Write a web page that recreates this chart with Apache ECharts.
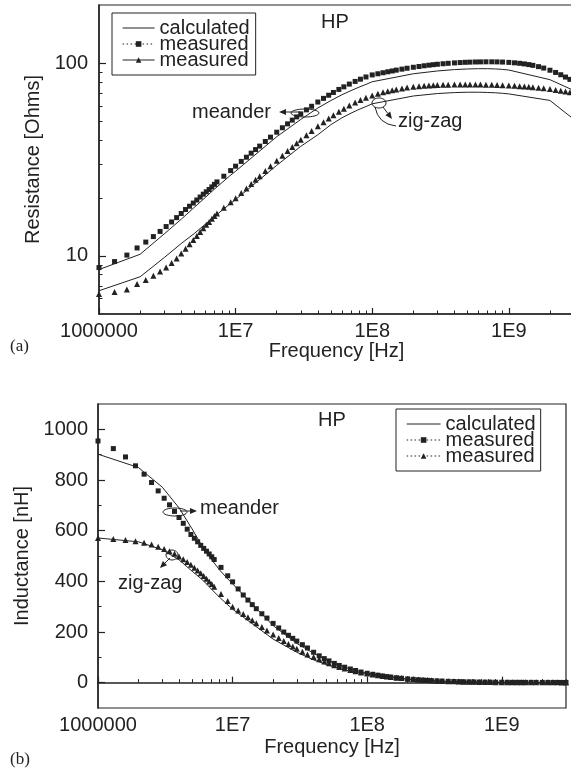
<!DOCTYPE html>
<html>
<head>
<meta charset="utf-8">
<script src="https://cdn.jsdelivr.net/npm/echarts@6/dist/echarts.min.js"></script>
<style>
  html, body { margin: 0; padding: 0; background: #fff; }
  #chart { width: 571px; height: 776px; }
</style>
</head>
<body>
<div id="chart"></div>
<script>
// frequency points
const calcFreq = [1e6, 2e6, 3e6, 4e6, 5e6, 6e6, 7e6, 8e6, 9e6,
  1e7, 2e7, 3e7, 4e7, 5e7, 6e7, 7e7, 8e7, 9e7,
  1e8, 2e8, 3e8, 4e8, 5e8, 6e8, 7e8, 8e8, 9e8,
  1e9, 2e9, 3e9];
const measFreq = [
  1.0e6, 1.3e6, 1.6e6, 1.9e6, 2.2e6, 2.5e6, 2.8e6, 3.1e6, 3.4e6, 3.7e6, 4.0e6, 4.3e6, 4.6e6, 4.9e6, 5.2e6, 5.5e6, 5.8e6, 6.1e6, 6.4e6, 6.7e6, 7.0e6, 7.3e6,
  8.2e6, 9.2e6,
  1.0e7, 1.1e7, 1.2e7, 1.3e7, 1.4e7, 1.5e7, 1.65e7, 1.8e7, 2.0e7, 2.2e7, 2.4e7, 2.6e7, 2.8e7, 3.0e7, 3.3e7, 3.6e7, 4.0e7, 4.4e7, 4.8e7, 5.2e7, 5.7e7, 6.2e7, 6.8e7, 7.5e7, 8.2e7, 9.0e7,
  1.0e8, 1.1e8, 1.2e8, 1.3e8, 1.4e8, 1.5e8, 1.65e8, 1.8e8, 2.0e8, 2.2e8, 2.4e8, 2.6e8, 2.8e8, 3.0e8, 3.3e8, 3.6e8, 4.0e8, 4.4e8, 4.8e8, 5.2e8, 5.7e8, 6.2e8, 6.8e8, 7.5e8, 8.2e8, 9.0e8,
  1.0e9, 1.1e9, 1.2e9, 1.3e9, 1.4e9, 1.5e9, 1.65e9, 1.8e9, 2.0e9, 2.2e9, 2.4e9, 2.6e9, 2.8e9, 3.0e9
];

// (a) resistance [Ohms]
const resMeander = [
  8.7, 9.35, 10.1, 11.0, 11.8, 12.6, 13.4, 14.2, 15.0, 15.8, 16.6, 17.4, 18.1, 18.8, 19.5, 20.2, 20.9, 21.5, 22.1, 22.8, 23.5, 24.2,
  25.9, 27.7,
  29.2, 30.9, 32.5, 34.1, 35.6, 37.1, 39.2, 41.3, 43.8, 46.2, 48.4, 50.6, 52.6, 54.5, 57.2, 59.7, 62.8, 65.6, 68.1, 70.4, 73.0, 75.3, 77.8, 80.3, 82.5, 84.7,
  86.8, 88.0, 89.1, 90.1, 91.0, 91.9, 93.0, 94.0, 95.1, 96.0, 96.8, 97.5, 98.1, 98.6, 99.2, 99.7, 100.2, 100.6, 100.9, 101.1, 101.3, 101.4, 101.5, 101.5, 101.4, 101.2,
  100.8, 100.3, 99.7, 99.0, 98.2, 97.3, 95.8, 94.2, 91.8, 89.4, 87.0, 84.6, 82.3, 80.0
];
const resZigzag = [
  6.35, 6.5, 6.7, 7.15, 7.5, 7.9, 8.3, 8.7, 9.2, 9.7, 10.3, 10.9, 11.5, 12.1, 12.7, 13.3, 13.9, 14.5, 15.0, 15.6, 16.1, 16.6,
  17.8, 19.0,
  19.9, 21.2, 22.4, 23.6, 24.8, 25.9, 27.6, 29.2, 31.2, 33.1, 35.0, 36.7, 38.4, 40.0, 42.3, 44.4, 47.0, 49.4, 51.6, 53.6, 55.9, 58.0, 60.2, 62.4, 64.3, 66.1,
  67.9, 69.3, 70.5, 71.5, 72.3, 73.0, 73.9, 74.6, 75.3, 75.8, 76.2, 76.5, 76.8, 77.0, 77.2, 77.3, 77.4, 77.5, 77.5, 77.5, 77.5, 77.4, 77.3, 77.2, 77.0, 76.8,
  76.5, 76.2, 75.9, 75.6, 75.3, 75.0, 74.5, 74.0, 73.3, 72.6, 71.9, 71.2, 70.5, 69.8
];
const resCalcMeander = [8.5, 10.2, 13.0, 15.5, 17.9, 20.1, 22.2, 24.1, 25.9,
  27.5, 41.5, 51, 58.5, 64, 68.5, 72, 75, 77.5,
  80, 88, 91, 92.5, 93.2, 93.5, 93.5, 93.2, 92.7,
  92.0, 82, 72];
const resCalcZigzag = [6.6, 7.8, 9.8, 11.6, 13.1, 14.6, 16.0, 17.3, 18.5,
  19.6, 29.5, 37, 42.5, 48, 52, 55, 57.5, 59.5,
  61.5, 67.5, 69.5, 70.3, 70.6, 70.6, 70.4, 70.1, 69.7,
  69.2, 64, 51];

// (b) inductance [nH]
const indMeander = [
  954, 924, 891, 856, 823, 790, 757, 728, 702, 676, 652, 629, 606, 585, 570, 556, 542, 530, 519, 508, 497, 486,
  455, 422,
  398, 370, 346, 326, 308, 292, 272, 255, 234, 216, 200, 187, 175, 164, 150, 137, 120, 106, 95, 86, 76, 68, 61, 54, 48, 42,
  37, 33, 29.5, 26.5, 24, 22, 19.5, 17.3, 15, 13, 11.5, 10.2, 9.1, 8.2, 7.1, 6.2, 5.3, 4.6, 4.0, 3.6, 3.2, 2.8, 2.5, 2.2, 2.0, 1.8,
  1.6, 1.5, 1.4, 1.3, 1.25, 1.2, 1.15, 1.1, 1.05, 1.0, 1.0, 0.95, 0.9, 0.9
];
const indZigzag = [
  571, 567, 563, 558, 552, 545, 537, 528, 519, 509, 498, 487, 476, 465, 454, 443, 432, 421, 410, 399, 389, 379,
  350, 322,
  300, 285, 271, 258, 246, 235, 220, 206, 190, 176, 164, 153, 143, 134, 122, 111, 101, 92, 84, 77, 69, 62, 56, 50, 45, 40,
  36, 32, 29, 26.5, 24, 22, 19.8, 18, 15.8, 14, 12.5, 11.2, 10.1, 9.2, 8.0, 7.0, 6.0, 5.2, 4.6, 4.1, 3.6, 3.2, 2.9, 2.6, 2.3, 2.1,
  1.9, 1.8, 1.7, 1.6, 1.55, 1.5, 1.45, 1.4, 1.35, 1.3, 1.25, 1.2, 1.15, 1.1
];
const indCalcMeander = [902, 849, 772, 690, 607, 535, 485, 445, 415,
  390, 225, 155, 116, 90, 72, 59, 50, 43,
  37, 14, 7.5, 4.8, 3.4, 2.6, 2.1, 1.8, 1.6,
  1.4, 0.9, 0.7];
const indCalcZigzag = [571, 556, 525, 485, 440, 405, 368, 337, 312,
  290, 172, 120, 90, 71, 58, 49, 42, 37,
  33, 13, 7.5, 5, 3.6, 2.8, 2.3, 2.0, 1.8,
  1.6, 1.0, 0.8];

// ticks
const freqMajorTicks = [1e6, 1e7, 1e8, 1e9];
const freqTickLabels = ['1000000', '1E7', '1E8', '1E9'];
const freqMinorTicks = [2e6, 3e6, 4e6, 5e6, 6e6, 7e6, 8e6, 9e6,
  2e7, 3e7, 4e7, 5e7, 6e7, 7e7, 8e7, 9e7,
  2e8, 3e8, 4e8, 5e8, 6e8, 7e8, 8e8, 9e8, 2e9, 3e9];
const resMajorTicks = [10, 100];
const resMinorTicks = [6, 7, 8, 9, 20, 30, 40, 50, 60, 70, 80, 90];
const indMajorTicks = [0, 200, 400, 600, 800, 1000];
const indMinorTicks = [100, 300, 500, 700, 900];

const legendLabels = {
  'calculated': 'calculated',
  'measured-meander': 'measured',
  'measured-zigzag': 'measured'
};

const FONT = 'Liberation Sans, Arial, Helvetica, sans-serif';
const SERIF = 'Liberation Serif, Times New Roman, serif';
const INK = '#222';
const DOTS = [1.5, 2.5];

const pairs = (xs, ys) => xs.map((x, i) => [x, ys[i]]);

const freqLabel = (val) => {
  const i = freqMajorTicks.findIndex(v => Math.abs(Math.log10(v / val)) < 0.01);
  return i < 0 ? '' : freqTickLabels[i];
};

// 频率轴（主刻度 + 次刻度）
const freqAxes = (gridIndex, nameGap) => [
  {
    type: 'log', gridIndex, min: 1e6, max: 3e9, position: 'bottom',
    name: 'Frequency [Hz]', nameLocation: 'middle', nameGap,
    nameTextStyle: { fontFamily: FONT, fontSize: 20, color: INK },
    axisLine: { lineStyle: { color: INK, width: 1.5 } },
    axisTick: { inside: true, length: 6, customValues: freqMajorTicks, lineStyle: { color: INK, width: 1.2 } },
    axisLabel: { customValues: freqMajorTicks, margin: 7, fontFamily: FONT, fontSize: 20, color: INK, formatter: freqLabel },
    splitLine: { show: false }
  },
  {
    type: 'log', gridIndex, min: 1e6, max: 3e9, position: 'bottom',
    axisLine: { show: false },
    axisTick: { inside: true, length: 3.5, customValues: freqMinorTicks, lineStyle: { color: INK, width: 1 } },
    axisLabel: { show: false },
    splitLine: { show: false }
  }
];

const yMinorAxis = (gridIndex, type, min, max, ticks) => ({
  type, gridIndex, min, max, position: 'left',
  axisLine: { show: false },
  axisTick: { inside: true, length: 3.5, customValues: ticks, lineStyle: { color: INK, width: 1 } },
  axisLabel: { show: false },
  splitLine: { show: false }
});

const calcSeries = (name, data, xi) => ({
  name, type: 'line', xAxisIndex: xi, yAxisIndex: xi,
  data, symbol: 'none', smooth: false,
  lineStyle: { color: INK, width: 1 }, itemStyle: { color: INK }, z: 3
});

const measSeries = (name, data, xi, symbol, size) => ({
  name, type: 'line', xAxisIndex: xi, yAxisIndex: xi,
  data, symbol, symbolSize: size, showSymbol: true,
  lineStyle: { width: 0 }, itemStyle: { color: INK }, z: 4
});

// 标注：箭头
const arrow = (x1, y1, x2, y2) => {
  const a = Math.atan2(y2 - y1, x2 - x1), L = 7, W = 3;
  const bx = x2 - L * Math.cos(a), by = y2 - L * Math.sin(a);
  const px = -Math.sin(a) * W, py = Math.cos(a) * W;
  return [
    { type: 'line', shape: { x1, y1, x2: bx, y2: by }, style: { stroke: INK, lineWidth: 1 } },
    { type: 'polygon', shape: { points: [[x2, y2], [bx + px, by + py], [bx - px, by - py]] }, style: { fill: INK } }
  ];
};
const ring = (cx, cy, rx, ry) => ({
  type: 'ellipse', shape: { cx, cy, rx, ry }, style: { fill: 'none', stroke: INK, lineWidth: 1 }
});
const label = (text, x, y, opts) => ({
  type: 'text', x, y,
  style: Object.assign({ text, fontFamily: FONT, fontSize: 20, fill: INK, textVerticalAlign: 'middle' }, opts || {})
});

const legendBase = {
  orient: 'vertical', itemHeight: 7, itemGap: -4, selectedMode: false,
  borderColor: INK, borderWidth: 1,
  textStyle: { fontFamily: FONT, fontSize: 20, color: INK },
  itemStyle: { color: INK, opacity: 1 },
  lineStyle: { color: INK, width: 1, opacity: 1, type: 'solid' },
  formatter: (name) => legendLabels[name]
};

const option = {
  animation: false,
  backgroundColor: '#fff',
  textStyle: { fontFamily: FONT },
  grid: [
    { left: 99, top: 5, width: 475, height: 309, show: true, borderColor: INK, borderWidth: 1.2, containLabel: false, outerBoundsMode: 'none' },
    { left: 98, top: 404, width: 468, height: 304, show: true, borderColor: INK, borderWidth: 1.2, containLabel: false, outerBoundsMode: 'none' }
  ],
  xAxis: [...freqAxes(0, 26), ...freqAxes(1, 29)],
  yAxis: [
    {
      type: 'log', gridIndex: 0, min: 5, max: 200, position: 'left',
      name: 'Resistance [Ohms]', nameLocation: 'middle', nameGap: 49, nameRotate: 90,
      nameTextStyle: { fontFamily: FONT, fontSize: 20, color: INK },
      axisLine: { lineStyle: { color: INK, width: 1.5 } },
      axisTick: { inside: true, length: 7, customValues: resMajorTicks, lineStyle: { color: INK, width: 1.2 } },
      axisLabel: { customValues: resMajorTicks, margin: 11, fontFamily: FONT, fontSize: 20, color: INK, formatter: (v) => String(Math.round(v)) },
      splitLine: { show: false }
    },
    yMinorAxis(0, 'log', 5, 200, resMinorTicks),
    {
      type: 'value', gridIndex: 1, min: -100, max: 1100, position: 'left',
      name: 'Inductance [nH]', nameLocation: 'middle', nameGap: 61, nameRotate: 90,
      nameTextStyle: { fontFamily: FONT, fontSize: 20, color: INK },
      axisLine: { lineStyle: { color: INK, width: 1.5 } },
      axisTick: { inside: true, length: 7, customValues: indMajorTicks, lineStyle: { color: INK, width: 1.2 } },
      axisLabel: { customValues: indMajorTicks, margin: 10, fontFamily: FONT, fontSize: 20, color: INK, formatter: (v) => String(v) },
      splitLine: { show: false }
    },
    yMinorAxis(1, 'value', -100, 1100, indMinorTicks)
  ],
  legend: [
    Object.assign({}, legendBase, {
      left: 112, top: 13, itemWidth: 32, padding: [5, 6, 5, 10],
      data: [
        { name: 'calculated', itemStyle: { opacity: 0 } },
        { name: 'measured-meander', lineStyle: { type: DOTS, width: 1.2 } },
        { name: 'measured-zigzag', lineStyle: { type: 'solid' } }
      ]
    }),
    Object.assign({}, legendBase, {
      left: 396, top: 409, itemWidth: 34, padding: [5, 5, 5, 10],
      data: [
        { name: 'calculated', itemStyle: { opacity: 0 } },
        { name: 'measured-meander', lineStyle: { type: DOTS, width: 1.2 } },
        { name: 'measured-zigzag', lineStyle: { type: DOTS, width: 1.2 } }
      ]
    })
  ],
  series: [
    calcSeries('calculated', pairs(calcFreq, resCalcMeander), 0),
    calcSeries('calculated', pairs(calcFreq, resCalcZigzag), 0),
    measSeries('measured-meander', pairs(measFreq, resMeander), 0, 'rect', 5),
    measSeries('measured-zigzag', pairs(measFreq, resZigzag), 0, 'triangle', 6),
    calcSeries('calculated', pairs(calcFreq, indCalcMeander), 2),
    calcSeries('calculated', pairs(calcFreq, indCalcZigzag), 2),
    measSeries('measured-meander', pairs(measFreq, indMeander), 2, 'rect', 5),
    measSeries('measured-zigzag', pairs(measFreq, indZigzag), 2, 'triangle', 6)
  ],
  graphic: [
    label('HP', 335, 22, { textAlign: 'center' }),
    label('HP', 332, 420, { textAlign: 'center' }),
    label('(a)', 10, 347, { fontFamily: SERIF, fontSize: 17 }),
    label('(b)', 10, 760, { fontFamily: SERIF, fontSize: 17 }),
    // (a) annotations
    label('meander', 192, 112),
    ring(305, 113, 14, 4),
    ...arrow(300, 112, 279, 112),
    label('zig-zag', 398, 121),
    ring(379, 103, 7, 5),
    { type: 'bezierCurve', shape: { x1: 375, y1: 107, x2: 396, y2: 126, cpx1: 378, cpy1: 124 }, style: { stroke: INK, lineWidth: 1, fill: 'none' } },
    ...arrow(383, 107, 392, 119),
    // (b) annotations
    label('meander', 200, 508),
    ring(175, 512, 12, 4),
    ...arrow(180, 511, 197, 511),
    label('zig-zag', 118, 583),
    ring(172, 555, 6, 5),
    ...arrow(170, 558, 160, 568)
  ]
};

const chart = echarts.init(document.getElementById('chart'));
chart.setOption(option);
</script>
</body>
</html>
